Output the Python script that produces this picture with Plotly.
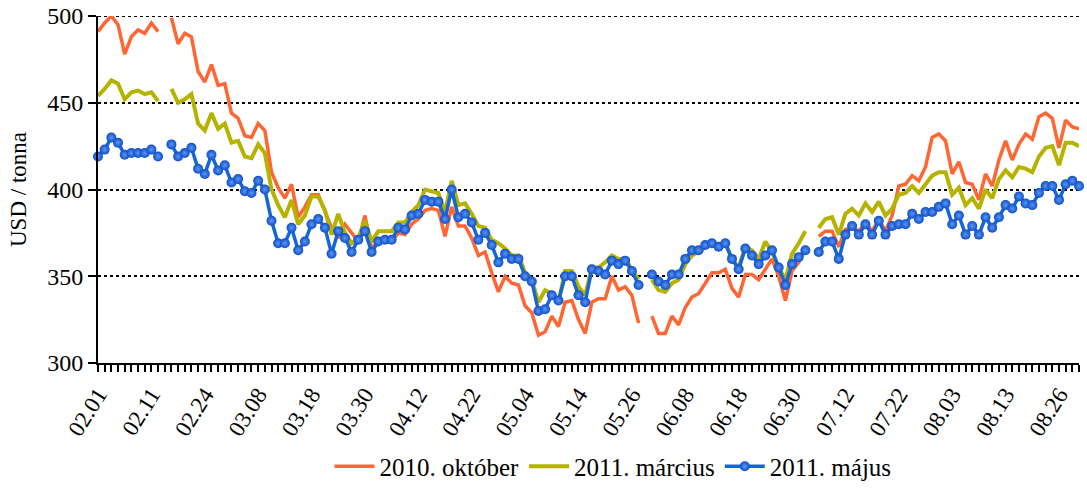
import plotly.graph_objects as go

# trading-day index labels (every 8th day is labelled)
tick_labels = ["02.01", "02.11", "02.24", "03.08", "03.18", "03.30", "04.12", "04.22", "05.04",
               "05.14", "05.26", "06.08", "06.18", "06.30", "07.12", "07.22", "08.03", "08.13", "08.26"]

okt_2010 = [
    491, 496, 500, 495, 478, 488, 492, 490, 496, 491,
    None, 499, 484, 490, 488, 468, 462, 472, 460, 461,
    444, 441, 431, 430, 438, 434, 410, 401, 395, 403,
    384, 390, 397, 397, 388, 378, 372, 380, 375, 370,
    385, 366, 370, 370, 370, 375, 374, 380, 383, 388,
    389, 388, 373, 390, 379, 379, 372, 362, 364, 352,
    341, 350, 346, 345, 333, 329, 316, 318, 327, 321,
    335, 336, 325, 317, 335, 337, 337, 350, 342, 344,
    339, 323, None, 327, 317, 317, 327, 322, 332, 338,
    340, 346, 352, 352, 354, 343, 338, 351, 351, 348,
    354, 360, 350, 336, 353, 358, 366, None, 373, 376,
    376, 367, 377, 378, 376, 381, 376, 383, 376, 385,
    402, 403, 408, 405, 413, 430, 432, 428, 409, 416,
    404, 403, 394, 409, 402, 417, 428, 417, 426, 432,
    429, 442, 444, 441, 424, 440, 436, 435,
]

mar_2011 = [
    454, 458, 463, 461, 452, 456, 457, 455, 456, 451,
    None, 458, 450, 452, 455, 438, 434, 444, 435, 438,
    427, 428, 419, 418, 426, 421, 400, 391, 384, 394,
    380, 385, 396, 396, 388, 374, 386, 375, 369, 372,
    382, 370, 376, 376, 376, 381, 381, 387, 391, 400,
    399, 398, 387, 405, 391, 392, 386, 379, 378, 371,
    369, 366, 362, 362, 352, 348, 335, 342, 340, 335,
    353, 353, 344, 339, 355, 355, 358, 362, 360, 360,
    354, 348, None, 348, 342, 341, 346, 348, 357, 362,
    364, 367, 369, 368, 369, 360, 355, 367, 365, 360,
    370, 364, 355, 348, 363, 369, 376, None, 378, 383,
    384, 374, 386, 389, 385, 392, 387, 393, 385, 389,
    397, 398, 402, 398, 403, 408, 410, 410, 397, 401,
    391, 395, 389, 400, 395, 406, 411, 407, 413, 412,
    410, 419, 424, 425, 414, 427, 427, 425,
]

maj_2011 = [
    419, 423, 430, 427, 420, 421, 421, 421, 423, 419,
    None, 426, 419, 421, 424, 412, 409, 420, 411, 414,
    404, 406, 399, 398, 405, 400, 382, 369, 369, 378,
    365, 370, 380, 383, 378, 363, 376, 372, 364, 371,
    376, 364, 370, 371, 371, 378, 377, 385, 386, 394,
    393, 393, 383, 400, 384, 386, 381, 371, 375, 368,
    358, 363, 360, 360, 350, 347, 330, 331, 339, 336,
    350, 350, 339, 335, 354, 353, 351, 359, 357, 359,
    353, 345, None, 351, 347, 345, 351, 351, 360, 365,
    365, 368, 369, 367, 369, 360, 354, 366, 362, 357,
    362, 365, 355, 345, 357, 361, 365, None, 364, 370,
    370, 360, 374, 379, 374, 380, 374, 382, 374, 379,
    380, 380, 386, 383, 387, 387, 390, 392, 380, 385,
    374, 379, 374, 384, 378, 384, 391, 389, 396, 392,
    391, 398, 402, 402, 394, 403, 405, 402,
]

FONT = "Liberation Serif"
x = list(range(len(okt_2010)))

fig = go.Figure()
fig.add_trace(go.Scatter(x=x, y=okt_2010, name="2010. október", mode="lines",
                         line=dict(color="#FF6633", width=3.5)))
fig.add_trace(go.Scatter(x=x, y=mar_2011, name="2011. március", mode="lines",
                         line=dict(color="#B5B300", width=4)))
fig.add_trace(go.Scatter(x=x, y=maj_2011, name="2011. május", mode="lines+markers",
                         line=dict(color="#1566D6", width=3.5),
                         marker=dict(size=10, color="#0E4FC8",
                                     gradient=dict(type="radial", color="#5C95F2")),
                         cliponaxis=False))

# top dashed grid line at the axis maximum (plotly skips the edge grid line)
fig.add_shape(type="line", xref="paper", yref="y", x0=0, x1=1, y0=500, y1=500,
              line=dict(color="black", width=2, dash="3px,3px"), layer="below")

fig.update_layout(
    width=1087, height=489,
    margin=dict(l=98, r=8, t=16, b=126, autoexpand=False),
    plot_bgcolor="white", paper_bgcolor="white",
    font=dict(family=FONT, size=24, color="black"),
    legend=dict(orientation="h", x=0.525, xanchor="center", y=-0.232, yanchor="top",
                font=dict(size=25), itemwidth=40, tracegroupgap=0),
)
fig.update_xaxes(
    range=[0, len(x) - 1],
    automargin=False,
    tickmode="array",
    tickvals=[i * 8 for i in range(len(tick_labels))],
    ticktext=tick_labels,
    tickangle=-58,
    tickfont=dict(size=23),
    ticks="outside", ticklen=7, tickcolor="black", tickwidth=1.5,
    minor=dict(tickmode="linear", tick0=0, dtick=1, ticks="outside", ticklen=7,
               tickcolor="black", tickwidth=1.5),
    showline=True, linecolor="black", linewidth=2,
    showgrid=False, zeroline=False,
)
fig.update_yaxes(
    range=[300, 500],
    automargin=False,
    dtick=50,
    ticks="outside", ticklen=8, tickcolor="black", tickwidth=2,
    ticklabeloverflow="allow",
    showline=True, linecolor="black", linewidth=2,
    showgrid=True, gridcolor="black", gridwidth=2, griddash="3px,3px",
    zeroline=False,
    title=dict(text="USD / tonna", font=dict(size=23), standoff=14),
    tickfont=dict(size=24),
)

# drop the default 8px page margin so the figure fills the window exactly
fig.write_html("out.html", config={"displayModeBar": False},
               post_script="document.body.style.margin = '0';")
